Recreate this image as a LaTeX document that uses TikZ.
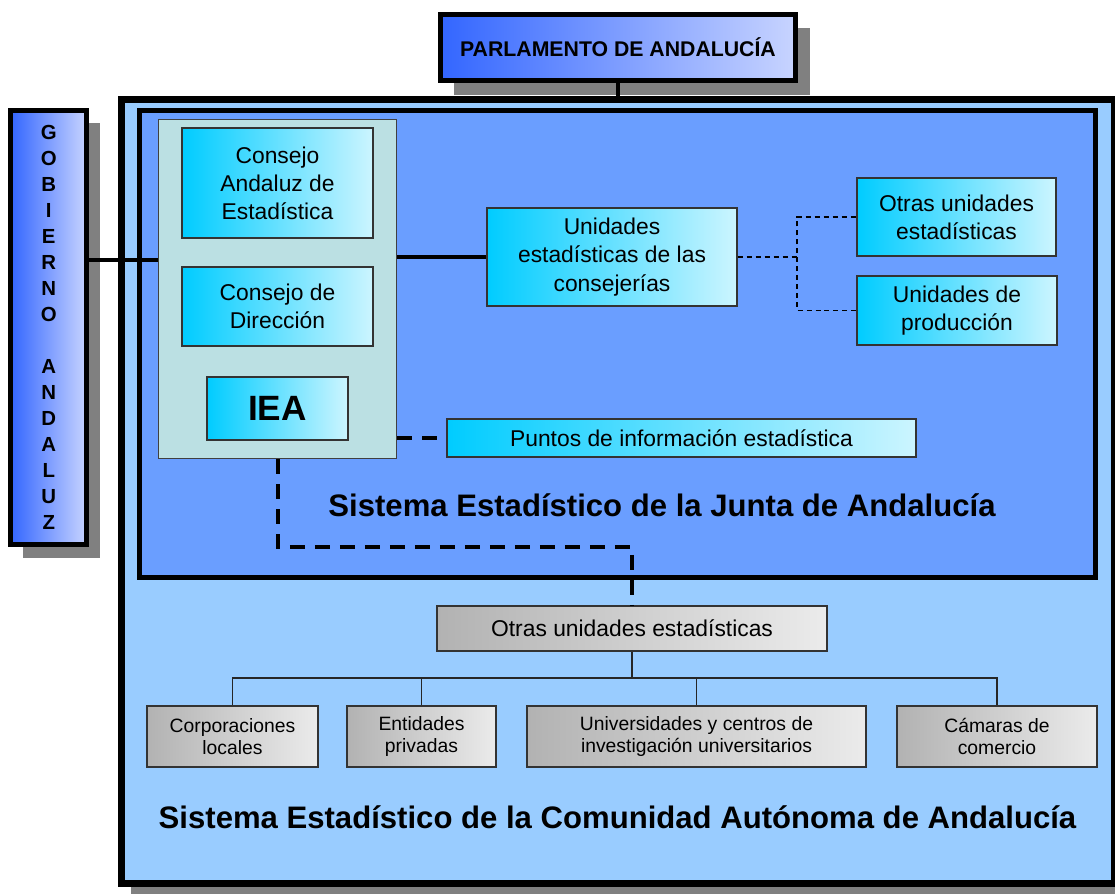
\documentclass[tikz,border=0pt]{standalone}
\usepackage{fontspec}
\setmainfont{Liberation Sans}
\usepackage{tikz}
\usetikzlibrary{calc}
\definecolor{azulexterior}{HTML}{99CCFF}
\definecolor{azuljunta}{HTML}{6A9EFF}
\definecolor{grupofondo}{HTML}{BBE0E3}
\definecolor{cian}{HTML}{00CCFF}
\definecolor{cianclaro}{HTML}{CCF5FF}
\definecolor{azulfuerte}{HTML}{3366FF}
\definecolor{azulclaro}{HTML}{C8D4FF}
\definecolor{grisosc}{HTML}{B2B2B2}
\definecolor{grisclaro}{HTML}{EBEBEB}
\definecolor{sombra}{HTML}{808080}
\tikzstyle{cab}=[draw=black, line width=0.1cm, left color=azulfuerte, right color=azulclaro, align=center, inner sep=0pt, font=\bfseries]
\tikzstyle{cian}=[draw=black!80, line width=0.03cm, left color=cian, right color=cianclaro, align=center, inner sep=0pt, font=\fontsize{13}{16}\selectfont]
\tikzstyle{gris}=[draw=black!80, line width=0.03cm, left color=grisosc, right color=grisclaro, align=center, inner sep=0pt, font=\fontsize{11}{12.6}\selectfont]
\tikzstyle{titulo}=[font=\fontsize{17.7}{20}\selectfont\bfseries]
\tikzstyle{linea}=[line width=0.08cm]
\tikzstyle{guion}=[line width=0.08cm, dash pattern=on 0.3cm off 0.2cm]
\tikzstyle{punteado}=[line width=0.03cm, dash pattern=on 0.1cm off 0.08cm]
\tikzstyle{rama}=[line width=0.03cm, draw=black!85]

\begin{document}
\begin{tikzpicture}[x=0.02cm,y=-0.02cm]
\useasboundingbox (0,0) rectangle (1115,893);

% sistemas
\fill[sombra] (131,110) rectangle (1125,900);
\draw[line width=0.14cm, fill=azulexterior] (121.5,99.5) rectangle (1114,883.5);
\coordinate (comunidad) at (617.5,99.5);
\draw[line width=0.1cm, fill=azuljunta] (139.5,110.5) rectangle (1095.5,577.5);

\node (junta) at (662,505) [titulo] {Sistema Estadístico de la Junta de Andalucía};
\node (tcomunidad) at (617.5,817) [titulo] {Sistema Estadístico de la Comunidad Autónoma de Andalucía};

% parlamento y gobierno
\coordinate (parlc) at (618,47.5);
\fill[sombra] ($(parlc)+(-164.5,-20)$) rectangle ($(parlc)+(191.5,47)$);
\node (parl) at (parlc) [cab, minimum width=7.1cm, minimum height=1.32cm, font=\fontsize{12.1}{14}\selectfont\bfseries] {PARLAMENTO DE ANDALUCÍA};

\coordinate (gobc) at (48.75,327.5);
\fill[sombra] ($(gobc)+(-26.25,-205)$) rectangle ($(gobc)+(51.25,230.5)$);
\node (gob) at (gobc) [cab, minimum width=1.53cm, minimum height=8.68cm, font=\fontsize{11.6}{14.8}\selectfont\bfseries]
  {G\\O\\B\\I\\E\\R\\N\\O\\\strut\\A\\N\\D\\A\\L\\U\\Z};

% organos
\node (grupo) at (277.5,289) [draw=black!75, line width=0.02cm, fill=grupofondo, minimum width=4.78cm, minimum height=6.8cm] {};
\node (cae) at (277.5,183) [cian, minimum width=3.82cm, minimum height=2.2cm] {Consejo\\Andaluz de\\Estadística};
\node (cdir) at (277.5,306.5) [cian, minimum width=3.82cm, minimum height=1.58cm] {Consejo de\\Dirección};
\node (iea) at (277.5,408.5) [cian, minimum width=2.82cm, minimum height=1.26cm, font=\fontsize{20}{24}\selectfont\bfseries] {IEA};

\node (unid) at (612,257) [cian, minimum width=5cm, minimum height=1.96cm] {Unidades\\estadísticas de las\\consejerías};
\node (otras) at (956.5,217) [cian, minimum width=3.98cm, minimum height=1.56cm] {Otras unidades\\estadísticas};
\node (prod) at (957,310.5) [cian, minimum width=4cm, minimum height=1.38cm] {Unidades de\\producción};
\node (puntos) at (681.5,438) [cian, minimum width=9.38cm, minimum height=0.76cm] {Puntos de información estadística};

% otras unidades
\node (otrasg) at (632,628.5) [gris, minimum width=7.8cm, minimum height=0.9cm, font=\fontsize{13}{16}\selectfont] {Otras unidades estadísticas};
\node (corp) at (232.5,736.5) [gris, minimum width=3.42cm, minimum height=1.22cm] {Corporaciones\\locales};
\node (ent) at (421.5,736.5) [gris, minimum width=2.98cm, minimum height=1.22cm] {Entidades\\privadas};
\node (univ) at (696.5,736.5) [gris, minimum width=6.78cm, minimum height=1.22cm] {Universidades y centros de\\investigación universitarios};
\node (cam) at (997,736.5) [gris, minimum width=4cm, minimum height=1.22cm] {Cámaras de\\comercio};

% conexiones
\draw[linea] (parl.south) -- (parl.south |- comunidad);
\draw[linea] (gob.east |- 0,260) -- (grupo.west |- 0,260);
\draw[linea] (grupo.east |- unid.west) -- (unid.west);

\coordinate (bif) at (797,257);
\draw[punteado] (unid.east) -- (bif) |- (otras.west);
\draw[punteado] (bif) |- (prod.west);

\coordinate (codo) at (277.5,547);
\draw[guion] (grupo.east |- puntos.west) -- (puntos.west);
\draw[guion] (iea.south |- grupo.south) -- (codo) -| (otrasg.north);

\coordinate (nudo) at (632,678);
\draw[rama] (otrasg.south) -- (nudo);
\draw[rama] (corp.north) |- (nudo) -| (cam.north);
\draw[rama] (ent.north) -- (ent.north |- nudo);
\draw[rama] (univ.north) -- (univ.north |- nudo);

\end{tikzpicture}
\end{document}
